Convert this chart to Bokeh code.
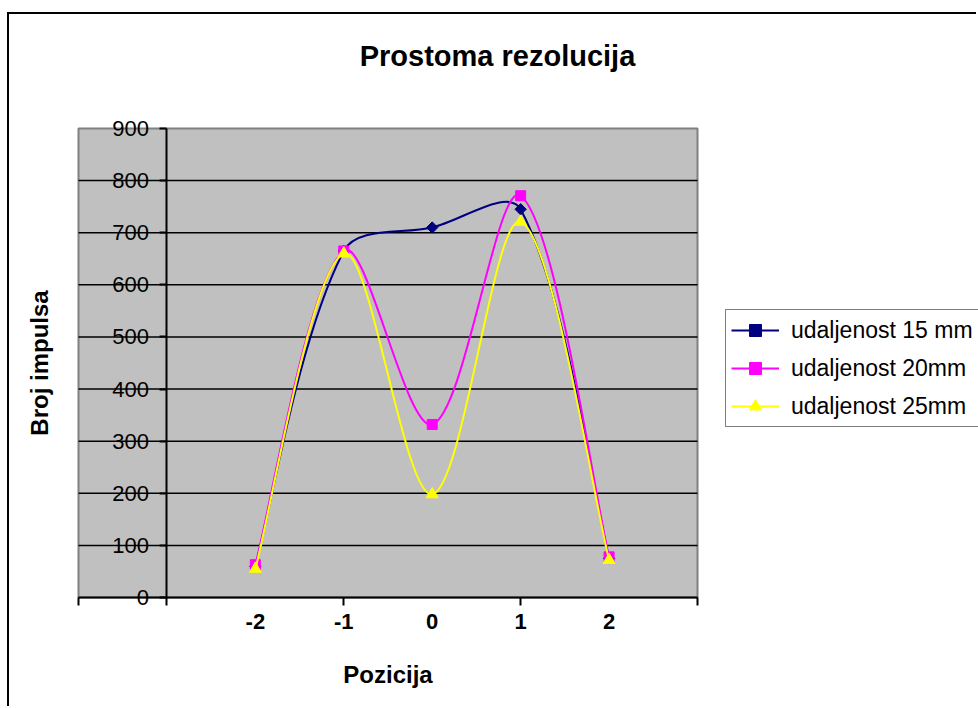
import numpy as np
from bokeh.plotting import figure
from bokeh.models import (Range1d, LinearAxis, FixedTicker, Legend, LegendItem,
                          ColumnDataSource, Grid, Label)
from bokeh.embed import file_html
from bokeh.resources import INLINE

# ---------------- data ----------------
title_text = "Prostoma rezolucija"
x_title = "Pozicija"
y_title = "Broj impulsa"
positions = [-2, -1, 0, 1, 2]
position_labels = ["-2", "-1", "0", "1", "2"]
series_names = ["udaljenost 15 mm", "udaljenost 20mm", "udaljenost 25mm"]
s15 = [60, 665, 710, 745, 75]
s20 = [63, 665, 332, 771, 78]
s25 = [55, 660, 198, 721, 72]
y_ticks = [0, 100, 200, 300, 400, 500, 600, 700, 800, 900]
x_tick_marks = [-4, -3, -1, 1, 3]
x_start, x_end = -4, 3
y_start, y_end = 0, 900
y_axis_at = -3

# ---------------- layout (pixels in the 978x708 page) ----------------
MARGIN_LEFT, MARGIN_TOP = 9, 14
FIG_W, FIG_H = 969, 694
AREA_L, AREA_R, AREA_T, AREA_B = 78, 697, 128, 597   # grey plot area
TITLE_CX, TITLE_CY = 497, 55

kx = (AREA_R - AREA_L) / (x_end - x_start)   # px per x unit
ky = (AREA_B - AREA_T) / (y_end - y_start)   # px per y unit
frame_l, frame_r = MARGIN_LEFT, MARGIN_LEFT + FIG_W
frame_t, frame_b = MARGIN_TOP, MARGIN_TOP + FIG_H
x_lo = x_start - (AREA_L - frame_l) / kx
x_hi = x_end + (frame_r - AREA_R) / kx
y_lo = y_start - (frame_b - AREA_B) / ky
y_hi = y_end + (AREA_T - frame_t) / ky

colors = ["#000080", "#FF00FF", "#FFFF00"]
markers = ["square", "square", "triangle"]
marker_angles = [np.pi / 4, 0, 0]
marker_sizes = [8, 10, 12]
FONT = "Liberation Sans"


def smooth_segments(xs, ys):
    """Bezier control points for an Excel-like smoothed line (screen-space)."""
    x = np.asarray(xs, float)
    y = np.asarray(ys, float)
    xp = np.concatenate([[x[0]], x, [x[-1]]])
    yp = np.concatenate([[y[0]], y, [y[-1]]])
    seg = np.hypot(np.diff(x) * kx, np.diff(y) * ky)          # segment lengths
    d = np.concatenate([[seg[0]], seg, [seg[-1]]])
    tx = xp[2:] - xp[:-2]
    ty = yp[2:] - yp[:-2]
    n = len(x)
    cx0, cy0, cx1, cy1 = [], [], [], []
    for i in range(n - 1):
        f0 = seg[i] / (d[i] + d[i + 1]) / 3.0
        f1 = seg[i] / (d[i + 1] + d[i + 2]) / 3.0
        cx0.append(x[i] + tx[i] * f0)
        cy0.append(y[i] + ty[i] * f0)
        cx1.append(x[i + 1] - tx[i + 1] * f1)
        cy1.append(y[i + 1] - ty[i + 1] * f1)
    return dict(x0=x[:-1], y0=y[:-1], x1=x[1:], y1=y[1:],
                cx0=cx0, cy0=cy0, cx1=cx1, cy1=cy1)


p = figure(width=FIG_W, height=FIG_H, output_backend="svg", toolbar_location=None,
           x_range=Range1d(x_lo, x_hi), y_range=Range1d(y_lo, y_hi),
           x_axis_location=None, y_axis_location=None,
           min_border_left=0, min_border_right=0, min_border_top=0,
           min_border_bottom=0)
p.margin = (MARGIN_TOP, 0, 0, MARGIN_LEFT)
p.styles = {"box-shadow": "-2px -2px 0 0 black"}
p.title.visible = False
p.background_fill_color = "white"
p.border_fill_color = "white"
p.outline_line_color = None
# no automatic grids
p.center = [r for r in p.center if not isinstance(r, Grid)]

# grey plot area
area = p.quad(left=[x_start], right=[x_end], bottom=[y_start], top=[y_end],
              fill_color="#C0C0C0", line_color="#808080", line_width=2)
area.level = "image"

# horizontal gridlines spanning the grey area only
grid_vals = y_ticks[1:-1]
grid_src = ColumnDataSource(dict(x0=[x_start] * len(grid_vals), x1=[x_end] * len(grid_vals),
                                 y=grid_vals))
p.segment(x0="x0", y0="y", x1="x1", y1="y", source=grid_src,
          line_color="black", line_width=1.5)

# x axis (at y = 0)
xax = LinearAxis(fixed_location=y_start, bounds=(x_start, x_end),
                 ticker=FixedTicker(ticks=positions, minor_ticks=x_tick_marks))
xax.major_label_overrides = {k: v for k, v in zip(positions, position_labels)}
xax.major_tick_line_color = None
xax.major_tick_out = 0
xax.major_tick_in = 0
xax.minor_tick_out = 8
xax.minor_tick_in = 0
xax.minor_tick_line_color = "black"
xax.minor_tick_line_width = 2
xax.axis_line_color = "black"
xax.axis_line_width = 2
xax.major_label_standoff = 8
xax.major_label_text_font = FONT
xax.major_label_text_font_size = "22px"
xax.major_label_text_font_style = "bold"
xax.major_label_text_color = "black"
xax.axis_label = x_title
xax.axis_label_standoff = 29
xax.axis_label_text_font = FONT
xax.axis_label_text_font_size = "24px"
xax.axis_label_text_font_style = "bold"
xax.axis_label_text_color = "black"
p.add_layout(xax, "below")

# y axis (crossing at x = -3)
yax = LinearAxis(fixed_location=y_axis_at, bounds=(y_start, y_end),
                 ticker=FixedTicker(ticks=y_ticks))
yax.axis_line_color = "black"
yax.axis_line_width = 2
yax.major_tick_out = 7
yax.major_tick_in = 0
yax.major_tick_line_color = "black"
yax.major_tick_line_width = 2
yax.minor_tick_line_color = None
yax.major_label_standoff = 11
yax.major_label_text_font = FONT
yax.major_label_text_font_size = "22px"
yax.major_label_text_color = "black"
yax.axis_label = y_title
yax.axis_label_standoff = 56
yax.axis_label_text_font = FONT
yax.axis_label_text_font_size = "24px"
yax.axis_label_text_font_style = "bold"
yax.axis_label_text_color = "black"
p.add_layout(yax, "left")

# chart title
title = Label(x=x_start + (TITLE_CX - AREA_L) / kx, y=y_end + (AREA_T - TITLE_CY) / ky,
              text=title_text, text_align="center", text_baseline="middle",
              text_font=FONT, text_font_size="29px", text_font_style="bold",
              text_color="black")
p.add_layout(title)

# series
items = []
for name, vals, c, m, a, s in zip(series_names, [s15, s20, s25], colors, markers,
                                   marker_angles, marker_sizes):
    seg = ColumnDataSource(smooth_segments(positions, vals))
    br = p.bezier(x0="x0", y0="y0", x1="x1", y1="y1", cx0="cx0", cy0="cy0",
                  cx1="cx1", cy1="cy1", source=seg, line_color=c, line_width=2)
    pts = ColumnDataSource(dict(x=positions, y=vals))
    sr = p.scatter(x="x", y="y", source=pts, marker=m, size=s, angle=a,
                   fill_color=c, line_color=c)
    items.append(LegendItem(label=name, renderers=[br, sr]))

legend = Legend(items=items, location=(716, 281))
legend.label_text_font = FONT
legend.label_text_font_size = "23px"
legend.label_text_color = "black"
legend.glyph_width = 48
legend.glyph_height = 30
legend.label_height = 30
legend.label_width = 205
legend.label_standoff = 12
legend.spacing = 8
legend.padding = 5
legend.margin = 0
legend.border_line_color = "black"
legend.border_line_width = 1.5
legend.background_fill_color = "white"
legend.background_fill_alpha = 1
p.add_layout(legend, "center")

open("out.html", "w").write(file_html(p, INLINE))
